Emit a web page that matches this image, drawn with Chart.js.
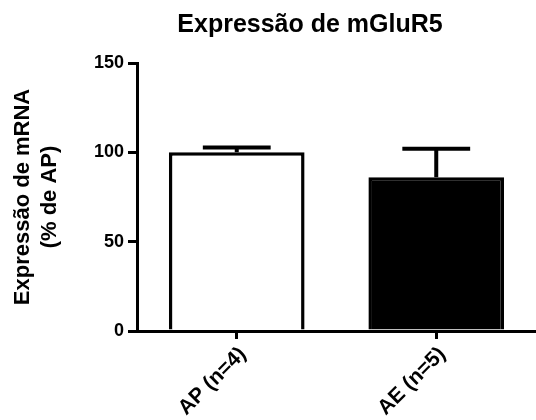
<!DOCTYPE html>
<html>
<head>
<meta charset="utf-8">
<script src="https://cdn.jsdelivr.net/npm/chart.js@4.4.1/dist/chart.umd.min.js"></script>
<style>
    html, body { margin: 0; padding: 0; background: #fff; }
    #wrap { width: 536px; height: 420px; position: relative; }
</style>
</head>
<body>
<div id="wrap"><canvas id="mglurChart"></canvas></div>
<script>
// dados
const groups = ['AP (n=4)', 'AE (n=5)'];
const means = [100, 86];
const sems = [2.7, 16];
const barColors = ['#ffffff', '#000000'];
const yTicks = [0, 50, 100, 150];

const FONT = "'Liberation Sans', Arial, Helvetica, sans-serif";

// titulo desenhado a mão (centrado como no original)
const titlePlugin = {
    id: 'titleText',
    afterDraw(chart) {
        const ctx = chart.ctx;
        ctx.save();
        ctx.font = 'bold 25px ' + FONT;
        ctx.fillStyle = '#000';
        ctx.textAlign = 'center';
        ctx.textBaseline = 'alphabetic';
        ctx.fillText('Expressão de mGluR5', 310, 32);
        ctx.restore();
    }
};

// barras de erro (só para cima, media + EPM)
const errorBarPlugin = {
    id: 'errorBars',
    afterDatasetsDraw(chart) {
        const ctx = chart.ctx;
        const meta = chart.getDatasetMeta(0);
        const yScale = chart.scales.y;
        ctx.save();
        ctx.strokeStyle = '#000';
        ctx.lineWidth = 4;
        meta.data.forEach((bar, i) => {
            const x = bar.x;
            const yTop = yScale.getPixelForValue(means[i] + sems[i]);
            const yMean = yScale.getPixelForValue(means[i]);
            const half = bar.width / 4;
            ctx.beginPath();
            ctx.moveTo(x, yMean);
            ctx.lineTo(x, yTop);
            ctx.moveTo(x - half, yTop);
            ctx.lineTo(x + half, yTop);
            ctx.stroke();
        });
        ctx.restore();
    }
};

const ctx = document.getElementById('mglurChart').getContext('2d');
const chart = new Chart(ctx, {
    type: 'bar',
    data: {
        labels: groups,
        datasets: [{
            data: means,
            backgroundColor: barColors,
            borderColor: '#000',
            borderWidth: 3.5,
            categoryPercentage: 1,
            barPercentage: 0.68
        }]
    },
    options: {
        responsive: true,
        maintainAspectRatio: false,
        animation: false,
        layout: { padding: { top: 63, right: -4, bottom: 0, left: 0 } },
        plugins: {
            legend: { display: false },
            title: { display: false },
            tooltip: { enabled: false }
        },
        scales: {
            x: {
                grid: { offset: false, drawOnChartArea: false, tickLength: 8, lineWidth: 3, color: '#000' },
                border: { color: '#000', width: 3 },
                ticks: {
                    color: '#000',
                    font: { family: FONT, size: 21, weight: 'bold' },
                    minRotation: 45,
                    maxRotation: 45,
                    labelOffset: 6,
                    padding: 3
                },
                afterFit(scale) { scale.height = 89; }
            },
            y: {
                min: 0,
                max: 150,
                afterBuildTicks(scale) { scale.ticks = yTicks.map(v => ({ value: v })); },
                grid: { drawOnChartArea: false, tickLength: 9, lineWidth: 3, color: '#000' },
                border: { color: '#000', width: 3 },
                ticks: {
                    color: '#000',
                    font: { family: FONT, size: 18, weight: 'bold' },
                    padding: 4
                },
                title: {
                    display: true,
                    text: ['Expressão de mRNA', '(% de AP)'],
                    color: '#000',
                    font: { family: FONT, size: 22, weight: 'bold' },
                    padding: { top: 10, bottom: 0 }
                },
                afterFit(scale) { scale.width = 137; }
            }
        }
    },
    plugins: [titlePlugin, errorBarPlugin]
});
</script>
</body>
</html>
